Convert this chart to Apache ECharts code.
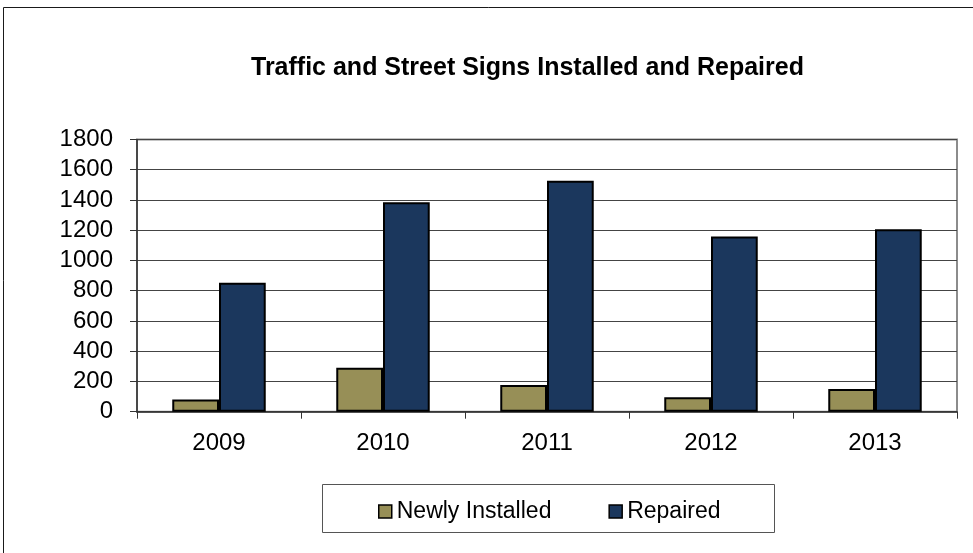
<!DOCTYPE html>
<html>
<head>
<meta charset="utf-8">
<script src="https://cdn.jsdelivr.net/npm/echarts@6/dist/echarts.min.js"></script>
<style>
  html, body { margin: 0; padding: 0; background: #fff; }
  #chart { width: 973px; height: 553px; }
</style>
</head>
<body>
<div id="chart"></div>
<script>
// Yearly counts of traffic and street signs
const years = ['2009', '2010', '2011', '2012', '2013'];
const newlyInstalled = [80, 290, 177, 95, 150];
const repaired = [852, 1385, 1528, 1158, 1207];
const yTicks = [0, 200, 400, 600, 800, 1000, 1200, 1400, 1600, 1800];

const FONT = '"Liberation Sans", Arial, sans-serif';

const chart = echarts.init(document.getElementById('chart'), null, { renderer: 'canvas' });

chart.setOption({
  animation: false,
  backgroundColor: '#ffffff',
  title: {
    text: 'Traffic and Street Signs Installed and Repaired',
    left: 246,
    top: 51,
    textStyle: { fontFamily: FONT, fontSize: 25, fontWeight: 'bold', color: '#000' }
  },
  graphic: [
    // outer chart frame
    {
      type: 'rect', silent: true, z: 0,
      shape: { x: 3.5, y: 7.5, width: 1100, height: 700 },
      style: { fill: null, stroke: '#1a1a1a', lineWidth: 1 }
    },
    // legend box
    {
      type: 'rect', silent: true, z: 1,
      shape: { x: 322.5, y: 484.5, width: 452, height: 48 },
      style: { fill: '#fff', stroke: '#555', lineWidth: 1 }
    }
  ],
  legend: {
    left: 373,
    top: 495,
    itemWidth: 13,
    itemHeight: 13,
    itemGap: 57,
    icon: 'rect',
    z: 5,
    textStyle: { fontFamily: FONT, fontSize: 23, color: '#000' },
    itemStyle: { borderColor: '#000', borderWidth: 1.5 },
    data: ['Newly Installed', 'Repaired']
  },
  grid: {
    left: 137,
    right: 16,
    top: 139.5,
    bottom: 141.3,
    show: true,
    borderColor: '#8c8c8c',
    borderWidth: 2,
    backgroundColor: 'transparent'
  },
  xAxis: {
    type: 'category',
    data: years,
    axisLine: { lineStyle: { color: '#333', width: 1.5 } },
    axisTick: { show: true, length: 7, lineStyle: { color: '#333' } },
    axisLabel: { fontFamily: FONT, fontSize: 24, color: '#000', margin: 20 }
  },
  yAxis: {
    type: 'value',
    min: 0,
    max: 1800,
    interval: 200,
    axisLine: { show: true, lineStyle: { color: '#333', width: 1.5 } },
    axisTick: { show: true, length: 7, lineStyle: { color: '#333' } },
    axisLabel: {
      fontFamily: FONT, fontSize: 24, color: '#000', margin: 24,
      formatter: v => (yTicks.includes(v) ? String(v) : '')
    },
    splitLine: { show: true, lineStyle: { color: '#444', width: 1 } }
  },
  series: [
    {
      name: 'Newly Installed',
      type: 'bar',
      data: newlyInstalled,
      barGap: '0%',
      barCategoryGap: '43%',
      itemStyle: { color: '#978f57', borderColor: '#000', borderWidth: 2 }
    },
    {
      name: 'Repaired',
      type: 'bar',
      data: repaired,
      itemStyle: { color: '#1b375d', borderColor: '#000', borderWidth: 2 }
    }
  ]
});
</script>
</body>
</html>
